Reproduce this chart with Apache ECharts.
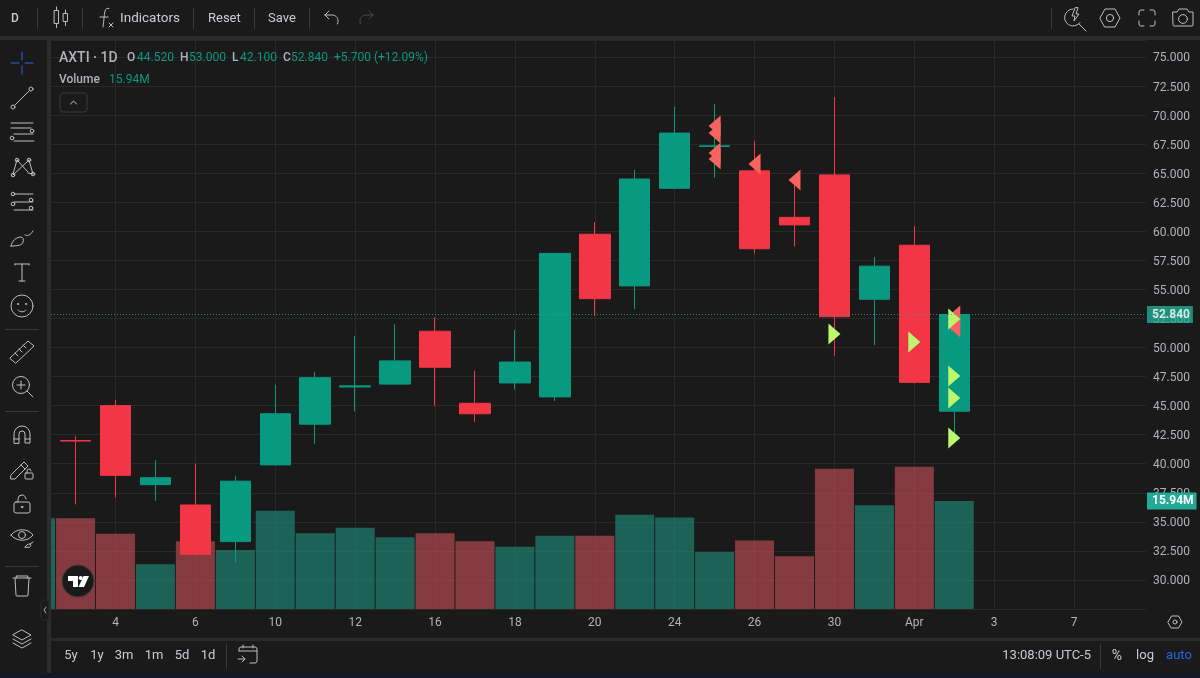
<!DOCTYPE html>
<html><head><meta charset="utf-8">
<style>html,body{margin:0;padding:0;background:#1a1a1a;overflow:hidden}
#c{position:absolute;left:0;top:0;width:1200px;height:678px}
#ic{position:absolute;left:0;top:0;pointer-events:none}
</style>
<script src="https://cdn.jsdelivr.net/npm/echarts@6/dist/echarts.min.js"></script>
</head><body>
<div id="c"></div>
<svg id="ic" width="1200" height="678" fill="none" stroke="#bdbec2" stroke-width="1" stroke-linecap="round" stroke-linejoin="round">
 <!-- top toolbar -->
 <g transform="translate(60,17)"><rect x="-5.500" y="-6.500" width="4" height="13"/><path d="M-3.500-10v3.500M-3.500 6.500v4"/><rect x="3.500" y="-3.500" width="4" height="8"/><path d="M5.500-7v3.500M5.500 4.500v4"/></g>
 <g transform="translate(105,18)"><path d="M-2 9C-1 3-1-3 0-7c.6-2.400 2.400-3 4-2.600M-5-1h8"/><path d="M4 5l4 4M8 5l-4 4"/></g>
 <g transform="translate(331,18)"><path d="M-6-3h7c3 0 6 2 6 6 0 1.500 0 2-.5 3M-6-3l4-4M-6-3l4 4"/></g>
 <g transform="translate(367,18)" stroke="#4a4a4a"><path d="M6-3h-7c-3 0-6 2-6 6 0 1.500 0 2 .5 3M6-3l-4-4M6-3l-4 4"/></g>
 <g transform="translate(1074,18)"><path d="M-1-9a8.500 8.500 0 1 0 7 13.500M5 6l7 7"/><path d="M1-10l-3 8h3l-1 5 5-7h-3l2-6z"/></g>
 <g transform="translate(1110,18)"><path d="M-10 0l5-9h10l5 9-5 9h-10z"/><circle r="3.600"/></g>
 <g transform="translate(1147,18)"><path d="M-8-3v-3a2 2 0 0 1 2-2h3M3-8h3a2 2 0 0 1 2 2v3M8 3v3a2 2 0 0 1-2 2h-3M-3 8h-3a2 2 0 0 1-2-2v-3"/></g>
 <g transform="translate(1183,18)"><path d="M-10-6h4l2-3h8l2 3h4v13a1 1 0 0 1-1 1h-18a1 1 0 0 1-1-1z"/><circle cy="1" r="4.400"/></g>
 <!-- left toolbar -->
 <g transform="translate(22,63)" stroke="#2f62e6"><path d="M-11 0h8M3 0h8M0-11v8M0 3v8"/></g>
 <g transform="translate(22,98)"><circle cx="-9" cy="9" r="2"/><circle cx="9" cy="-9" r="2"/><path d="M-7.500 7.500l15-15"/></g>
 <g transform="translate(22,132)"><path d="M-11-9h22M-11-4h20M-8 2h19M-8 9h20"/><circle cx="10" cy="-1" r="1.800"/><circle cx="-10" cy="6" r="1.800"/></g>
 <g transform="translate(22,168)"><path d="M-5-8l-4 14M-5-8l11 12M-9 7L7-8M7-8l4 14M6 5l5 1"/><circle cx="-5" cy="-8" r="1.800"/><circle cx="7" cy="-8" r="1.800"/><circle cx="-9" cy="7" r="1.800"/><circle cx="11" cy="6" r="1.800"/></g>
 <g transform="translate(22,202)"><path d="M-8-8h19M-8 0h19M-8 8h19"/><circle cx="-9" cy="-8" r="1.800"/><circle cx="9" cy="-2" r="1.800"/><circle cx="-9" cy="2" r="1.800"/><circle cx="9" cy="6" r="1.800"/></g>
 <g transform="translate(22,238)"><path d="M-11 8c1-5 5-9 10-9 2 0 3 3 2 5-1 3-4 4-12 4zM3-3c2 1 5 1 8-4"/></g>
 <g transform="translate(22,272)"><path d="M-7-8h14M0-8V9M-3 9h6M-7-8v1M7-8v1"/></g>
 <g transform="translate(22,306)"><circle r="11"/><circle cx="-4" cy="-2" r=".6"/><circle cx="4" cy="-2" r=".6"/><path d="M-4 4c2 2.500 6 2.500 8 0"/></g>
 <g transform="translate(22,352)"><path d="M-12 6L6-11l6 5-18 17zM-7 1l3 3M-3-3l3 3M1-7l3 3"/></g>
 <g transform="translate(22,386)"><circle cx="-1" cy="-1" r="8.500"/><path d="M5 5l6 6M-5-1h8M-1-5v8"/></g>
 <g transform="translate(22,434)"><path d="M-8 9v-9a8 8 0 0 1 16 0v9h-5v-9a3 3 0 0 0-6 0v9zM-8 5h5M3 5h5"/></g>
 <g transform="translate(22,469)"><path d="M-11 6L2-7l4 4L-7 10l-4 0zM-1-4l4 4"/><rect x="3" y="4" width="8" height="6" rx="1"/><path d="M5 4v-2a2 2 0 0 1 4 0"/></g>
 <g transform="translate(22,504)"><rect x="-8" y="-2" width="16" height="11" rx="2"/><path d="M-4-2v-3a4 4 0 0 1 8 0"/><circle cy="3" r=".8"/></g>
 <g transform="translate(22,537)"><path d="M-11-2c5-7 17-7 22 0-5 7-17 7-22 0z"/><circle cy="-2" r="3.500"/><path d="M3 10c1-2 3-3 5-3 1 0 1 2 0 3zM8 7l3-2"/></g>
 <g transform="translate(22,586)"><path d="M-9-8h18M-5-8l-1-2h12l-1 2M-7-8l1 17a1 1 0 0 0 1 1h10a1 1 0 0 0 1-1l1-17"/></g>
 <g transform="translate(22,639)"><path d="M0-9l9 5-9 5-9-5zM-9 0l9 5 9-5M-9 4l9 5 9-5"/></g>
 <g transform="translate(45,610)"><rect x="-4" y="-10" width="8" height="20" rx="3" fill="#1a1a1a" stroke="#2a2a2a"/><path d="M1-3l-2 3 2 3" stroke="#b0b0b0"/></g>
 <!-- chevron button -->
 <g transform="translate(73.500,102.500)"><rect x="-13.500" y="-9.500" width="27" height="19" rx="3" stroke="#3a3a3a"/><path d="M-3 1.500l3-3 3 3" stroke="#d0d0d0"/></g>
 <!-- logo -->
 <g transform="translate(78,581)" stroke="none"><circle r="16" fill="#1a1a1a" stroke="#3b3b3b" stroke-width="1"/><path d="M-10-5H0V6H-5V0H-10zM5.500-5H11L6 6H.5z" fill="#fff"/><circle cx="2.700" cy="-3" r="2" fill="#fff"/></g>
 <!-- gear, calendar -->
 <g transform="translate(1175,622)"><path d="M-7 0l3.500-6h7l3.500 6-3.500 6h-7z"/><circle r="2"/></g>
 <g transform="translate(248,655)"><path d="M-9-4V-6a2 2 0 0 1 2-2H7a2 2 0 0 1 2 2V6a2 2 0 0 1-2 2H2M-9-4H9M-5-10v3M5-10v3M-10 4h7M-6 1l3 3-3 3"/></g>
</svg>
<script>
// --- data ---
var dayIndex   = [0,1,2,3,4,5,6,7,8,9,10,11,12,13,14,15,16,17,18,19,20,21,22,23];
var opens  = [null,42.00,45.00,38.20,36.45,33.30,39.90,43.40,46.60,46.85,51.40,45.20,46.95,45.75,59.75,55.30,63.70,67.30,65.20,61.20,64.85,54.15,58.80,44.52];
var closes = [null,41.95,39.00,38.80,32.20,38.50,44.30,47.40,46.70,48.85,48.30,44.30,48.75,58.10,54.20,64.50,68.45,67.35,58.50,60.55,52.65,57.00,47.00,52.84];
var lows   = [null,36.50,37.10,36.80,32.20,31.50,39.90,41.70,44.50,46.85,45.00,43.60,46.40,45.40,52.70,53.30,63.70,64.60,58.10,58.70,49.30,50.20,46.90,42.10];
var highs  = [null,42.40,45.50,40.30,40.00,38.95,46.80,47.90,51.00,52.00,52.60,48.00,51.50,58.10,60.80,65.30,70.70,70.95,67.80,64.50,71.55,57.80,60.45,53.00];
var volumes= [13.4,13.4,11.1,6.6,10.0,8.7,14.5,11.2,12.0,10.6,11.2,10.0,9.2,10.8,10.8,13.9,13.5,8.4,10.1,7.8,20.7,15.3,21.0,15.94];
var sellX = [17,17,17,17,18,19,23,23];
var sellY = [69.06,68.46,66.74,66.22,65.79,64.41,52.71,51.76];
var buyX  = [20,22,23,23,23,23];
var buyY  = [51.16,50.47,52.45,47.55,45.66,42.21];
var xTickIndex  = [2,4,6,8,10,12,14,16,18,20,22,24,26];
var xTickLabels = ['4','6','10','12','16','18','20','24','26','30','Apr','3','7'];
var lastPrice = 52.84;
var lastVolume = 15.94;

var UP='#089981', DOWN='#f23645', BG='#1a1a1a', BAND='#2c2c2c', GRID='#292929';
var TXT='#c9ccd3', AX='#b0b3ba', FONT='Roboto';

var candleData = dayIndex.slice(1).map(function(d){return [d,opens[d],closes[d],lows[d],highs[d]];});
var volData = dayIndex.map(function(d){
  var up = closes[d]===null || closes[d]>=opens[d];
  return {value:[d,volumes[d]],itemStyle:{color:up?'rgba(32,129,114,0.70)':'rgba(205,80,90,0.60)'}};
});
function txt(x,y,s,color,size,align,weight){
  return {type:'text',x:x,y:y,silent:true,z:10,style:{text:s,fill:color||TXT,font:(weight||'400')+' '+(size||12)+'px '+FONT,textAlign:align||'left',textVerticalAlign:'middle'}};
}
function rect(x,y,w,h,c,z){return {type:'rect',silent:true,z:z||9,shape:{x:x,y:y,width:w,height:h},style:{fill:c}};}
function sep(x,y1,y2){return rect(x,y1,1,y2-y1,'#3a3a3a',10);}
function hsep(y){return rect(5,y,34,1,'#3a3a3a',10);}

var gfx = [
  rect(0,40,47,633,BG),
  rect(0,36,1200,4,BAND), rect(47,40,4,633,BAND), rect(51,638,1149,3,BAND), rect(0,673,1200,5,'#141826'),
  sep(37,8,29),sep(82,8,29),sep(193,8,29),sep(254,8,29),sep(309,8,29),sep(1051,8,29),
  hsep(329),hsep(411),hsep(566),sep(226,644,669),sep(1100,644,669),
  txt(15,19,'D',TXT,12,'center','500'),txt(120,19,'Indicators',TXT,13.5),
  txt(208,19,'Reset',TXT,13),txt(268,19,'Save',TXT,13),
  txt(59,58,'AXTI · 1D',AX,14,'left','500'),
  txt(127,58,'O',AX,12,'left','500'),txt(137,58,'44.520',UP,12),
  txt(180,58,'H',AX,12,'left','500'),txt(189,58,'53.000',UP,12),
  txt(232,58,'L',AX,12,'left','500'),txt(240,58,'42.100',UP,12),
  txt(283,58,'C',AX,12,'left','500'),txt(291,58,'52.840',UP,12),
  txt(334,58,'+5.700 (+12.09%)',UP,12),
  txt(59,80,'Volume',AX,12,'left','500'),txt(109,80,'15.94M',UP,12),
  txt(71,656,'5y',TXT,13,'center'),txt(97,656,'1y',TXT,13,'center'),txt(124,656,'3m',TXT,13,'center'),
  txt(154,656,'1m',TXT,13,'center'),txt(182,656,'5d',TXT,13,'center'),txt(208,656,'1d',TXT,13,'center'),
  txt(1091,656,'13:08:09 UTC-5',TXT,13,'right'),txt(1117,656,'%',TXT,14,'center'),
  txt(1145,656,'log',TXT,13,'center'),txt(1179,656,'auto','#2f62e6',13,'center')
];

var chart = echarts.init(document.getElementById('c'),null,{width:1200,height:678});
chart.setOption({
  animation:false,
  backgroundColor:BG,
  textStyle:{fontFamily:FONT},
  grid:{left:51,right:54,top:40,bottom:69,containLabel:false},
  graphic:gfx,
  xAxis:{type:'value',min:0.385,max:27.80,
    axisLine:{show:false},
    axisTick:{show:false,customValues:xTickIndex},
    splitLine:{show:true,lineStyle:{color:GRID,width:1}},
    axisLabel:{color:AX,fontSize:12,margin:8,fontFamily:FONT,customValues:xTickIndex,
      formatter:function(v){return xTickLabels[xTickIndex.indexOf(v)]||'';}}
  },
  yAxis:[
   {type:'value',position:'right',min:27.5,max:76.46,interval:2.5,
    axisLine:{show:false},axisTick:{show:false},
    splitLine:{show:true,lineStyle:{color:GRID,width:1}},
    axisLabel:{color:AX,fontSize:12,margin:7,fontFamily:FONT,showMinLabel:false,showMaxLabel:false,
      rich:{p:{color:AX,fontSize:12,fontFamily:FONT,padding:[3,0,0,0]}},
      formatter:function(v){return '{p|'+v.toFixed(3)+'}';}}},
   {type:'value',position:'right',min:0,max:84,show:false,splitLine:{show:false}}
  ],
  series:[
   {type:'bar',name:'Volume',yAxisIndex:1,barWidth:39,z:1,data:volData,
    markLine:{silent:true,symbol:'none',precision:2,
      lineStyle:{color:'rgba(0,0,0,0)',width:1},
      label:{show:true,position:'end',distance:1,formatter:function(){return lastVolume.toFixed(2)+'M';},
        backgroundColor:'#22ab94',color:'#fff',fontSize:12,fontWeight:'bold',fontFamily:FONT,padding:[3,3,2,5]},
      data:[{yAxis:lastVolume}]}},
   {type:'candlestick',name:'AXTI',yAxisIndex:0,barWidth:31,z:2,
    encode:{x:0,y:[1,2,3,4]},
    itemStyle:{color:UP,color0:DOWN,borderColor:UP,borderColor0:DOWN,borderWidth:1},
    data:candleData,
    markLine:{silent:true,symbol:'none',z:5,
      lineStyle:{color:'#22ab94',type:[1,2],width:1,opacity:.8},
      label:{show:true,position:'end',distance:1,formatter:function(){return lastPrice.toFixed(3);},
        backgroundColor:'#22ab94',color:'#fff',fontSize:12,fontWeight:'bold',fontFamily:FONT,padding:[3,3,2,5]},
      data:[{yAxis:lastPrice}]}},
   {type:'scatter',name:'Sell',yAxisIndex:0,z:4,symbol:'path://M10 0L0 10L10 20Z',symbolSize:[12,21],
    itemStyle:{color:'#f9635f',opacity:1},data:sellX.map(function(x,i){return [x,sellY[i]];})},
   {type:'scatter',name:'Buy',yAxisIndex:0,z:4,symbol:'path://M0 0L10 10L0 20Z',symbolSize:[12,21],
    itemStyle:{color:'#bcf56e',opacity:1},data:buyX.map(function(x,i){return [x,buyY[i]];})}
  ]
});
</script></body></html>
